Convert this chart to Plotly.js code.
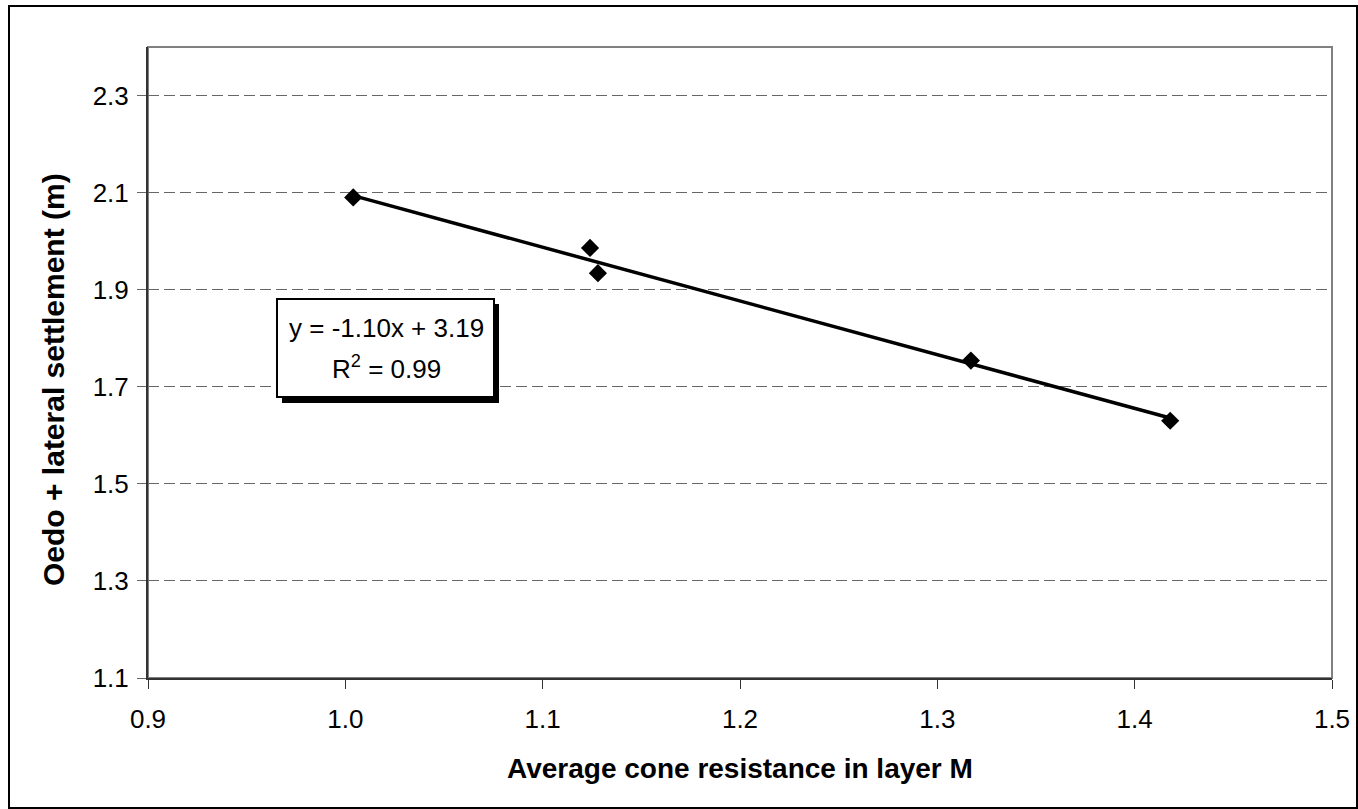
<!DOCTYPE html>
<html>
<head>
<meta charset="utf-8">
<script src="https://cdn.plot.ly/plotly-3.0.1.min.js"></script>
<style>
html,body{margin:0;padding:0;background:#fff;}
#chart{width:1358px;height:809px;}
</style>
</head>
<body>
<div id="chart"></div>
<script>
// ---- data ----
var coneResistance = [1.004, 1.124, 1.128, 1.317, 1.418];
var settlement     = [2.090, 1.986, 1.934, 1.754, 1.630];
var xTickVals = [0.9, 1.0, 1.1, 1.2, 1.3, 1.4, 1.5];
var yTickVals = [1.1, 1.3, 1.5, 1.7, 1.9, 2.1, 2.3];
var equationText = "y = -1.10x + 3.19";
var r2Text = "R<sup>2</sup> = 0.99";
var xTitle = "Average cone resistance in layer M";
var yTitle = "Oedo + lateral settlement (m)";

// ---- least-squares trend line from the data ----
var n = coneResistance.length, mx = 0, my = 0;
for (var i = 0; i < n; i++) { mx += coneResistance[i]; my += settlement[i]; }
mx /= n; my /= n;
var sxy = 0, sxx = 0;
for (var i = 0; i < n; i++) {
  sxy += (coneResistance[i] - mx) * (settlement[i] - my);
  sxx += (coneResistance[i] - mx) * (coneResistance[i] - mx);
}
var slope = sxy / sxx, intercept = my - slope * mx;
var xMin = Math.min.apply(null, coneResistance), xMax = Math.max.apply(null, coneResistance);
var trendX = [xMin, xMax];
var trendY = [slope * xMin + intercept, slope * xMax + intercept];

// ---- layout geometry ----
var W = 1358, H = 809;
var mL = 148, mR = 26, mT = 47, mB = 131;
var pw = W - mL - mR, ph = H - mT - mB;
function px(X) { return (X - mL) / pw; }
function py(Y) { return (H - mB - Y) / ph; }

var FONT = "Liberation Sans, Arial, sans-serif";

var traces = [
  {
    x: trendX, y: trendY, type: 'scatter', mode: 'lines',
    line: {color: '#000', width: 3.5}, hoverinfo: 'skip', showlegend: false
  },
  {
    x: coneResistance, y: settlement, type: 'scatter', mode: 'markers',
    marker: {symbol: 'diamond', size: 14, color: '#000', line: {width: 0}},
    showlegend: false
  }
];

var layout = {
  width: W, height: H,
  margin: {l: mL, r: mR, t: mT, b: mB, pad: 0},
  paper_bgcolor: '#fff', plot_bgcolor: '#fff',
  font: {family: FONT, size: 26, color: '#000'},
  showlegend: false,
  xaxis: {
    range: [0.9, 1.5], tickvals: xTickVals, tickformat: '.1f',
    showgrid: false, zeroline: false,
    showline: true, linecolor: '#333', linewidth: 2,
    ticks: 'outside', ticklen: 9, tickcolor: '#333', tickwidth: 1,
    tickfont: {family: FONT, size: 26, color: '#000'},
    ticklabelstandoff: 8,
    automargin: false, fixedrange: true
  },
  yaxis: {
    range: [1.1, 2.4], tickvals: yTickVals, tickformat: '.1f',
    showgrid: true, gridcolor: '#666', gridwidth: 1, griddash: '11px,5px',
    zeroline: false,
    showline: true, linecolor: '#333', linewidth: 2,
    ticks: 'outside', ticklen: 9, tickcolor: '#666', tickwidth: 1,
    tickfont: {family: FONT, size: 26, color: '#000'},
    ticklabelstandoff: 3,
    automargin: false, fixedrange: true
  },
  shapes: [
    // plot-area frame
    {type: 'rect', xref: 'paper', yref: 'paper', x0: 0, x1: 1, y0: 0, y1: 1,
     line: {color: '#808080', width: 2}, fillcolor: 'rgba(0,0,0,0)', layer: 'below'},
    // outer chart frame
    {type: 'rect', xref: 'paper', yref: 'paper', x0: px(9), x1: px(1357), y0: py(808), y1: py(6),
     line: {color: '#000', width: 2}, fillcolor: 'rgba(0,0,0,0)', layer: 'below'},
    // equation box shadow
    {type: 'rect', xref: 'paper', yref: 'paper', x0: px(282), x1: px(499), y0: py(403), y1: py(304),
     line: {width: 0}, fillcolor: '#000', layer: 'above'},
    // equation box
    {type: 'rect', xref: 'paper', yref: 'paper', x0: px(277), x1: px(494), y0: py(397), y1: py(299),
     line: {color: '#000', width: 2}, fillcolor: '#fff', layer: 'above'}
  ],
  annotations: [
    {xref: 'paper', yref: 'paper', x: px(386), y: py(328), text: equationText, showarrow: false,
     xanchor: 'center', yanchor: 'middle', font: {family: FONT, size: 26, color: '#000'}},
    {xref: 'paper', yref: 'paper', x: px(386), y: py(367), text: r2Text, showarrow: false,
     xanchor: 'center', yanchor: 'middle', font: {family: FONT, size: 26, color: '#000'}},
    {xref: 'paper', yref: 'paper', x: px(740), y: py(768), text: '<b>' + xTitle + '</b>', showarrow: false,
     xanchor: 'center', yanchor: 'middle', font: {family: FONT, size: 28, color: '#000'}},
    {xref: 'paper', yref: 'paper', x: px(53), y: py(380), text: '<b>' + yTitle + '</b>', showarrow: false,
     textangle: -90, xanchor: 'center', yanchor: 'middle', font: {family: FONT, size: 30, color: '#000'}}
  ]
};

Plotly.newPlot('chart', traces, layout, {displayModeBar: false, staticPlot: true});
</script>
</body>
</html>
